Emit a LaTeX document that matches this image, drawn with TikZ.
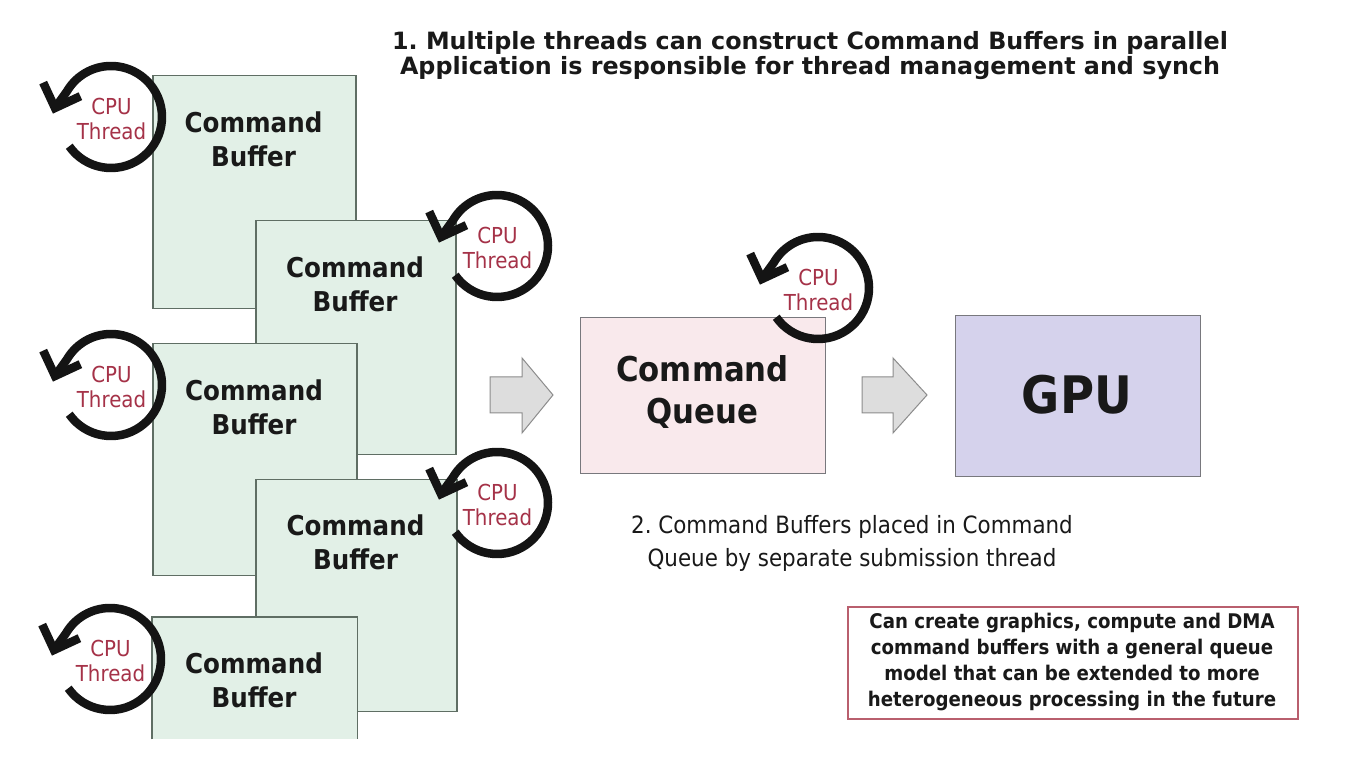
\documentclass[tikz,border=0pt]{standalone}
\usepackage{fontspec}
\setmainfont{DejaVu Sans}
\newfontfamily\cfont[FakeStretch=0.9]{DejaVu Sans}
\usetikzlibrary{calc}
\definecolor{cbfill}{RGB}{226,240,231}
\definecolor{cbline}{RGB}{95,110,100}
\definecolor{cqfill}{RGB}{249,233,236}
\definecolor{gpufill}{RGB}{213,210,236}
\definecolor{boxline}{RGB}{120,120,125}
\definecolor{arrfill}{RGB}{221,221,221}
\definecolor{arrline}{RGB}{140,140,140}
\definecolor{thred}{RGB}{165,50,72}
\definecolor{noteline}{RGB}{185,95,110}
\definecolor{ink}{RGB}{25,25,25}
\frenchspacing
\begin{document}
\frenchspacing
\begin{tikzpicture}[x=1pt,y=1pt,
  cb/.style={draw=cbline, line width=1.5pt, fill=cbfill, anchor=north west, inner sep=0pt},
  cblabel/.style={font=\cfont\bfseries\fontsize{27.3}{34}\selectfont, align=center, text=ink, inner sep=0pt},
  ring/.style={line width=8.5pt, draw=black!92, line join=round},
  threadtext/.style={font=\cfont\fontsize{22}{25}\selectfont, text=thred, align=center, inner sep=0pt},
  blockarrow/.style={fill=arrfill, draw=arrline, line width=1pt, line join=miter},
  plainbox/.style={draw=boxline, line width=1.3pt, anchor=north west, inner sep=0pt},
  cputhread/.pic={
    \draw[ring] (215:51pt) arc[start angle=215, end angle=510, radius=51pt] -- (-56,9);
    \draw[ring, line join=miter] (-30.6,20.8) -- (-56,9) -- (-67.8,34.4);
    \node[threadtext] (-txt) at (0.5,-2) {CPU\\Thread};
  }
]
\fill[white] (0,0) rectangle (1362,768);
\useasboundingbox (0,0) rectangle (1362,768);

% title
\node[font=\bfseries\fontsize{23.8}{25}\selectfont, align=center, text=ink, inner sep=0pt] (title) at (810,712)
  {1. Multiple threads can construct Command Buffers in parallel\\Application is responsible for thread management and synch};

% command buffers
\node[cb, minimum width=203pt, minimum height=233pt] (b1) at (152,693) {};
\node[cblabel] (b1t) at (253.5,629) {Command\\Buffer};
\node[cb, minimum width=200pt, minimum height=234pt] (b2) at (255,548) {};
\node[cblabel] (b2t) at (355,484) {Command\\Buffer};
\node[cb, minimum width=204pt, minimum height=232pt] (b3) at (152,425) {};
\node[cblabel] (b3t) at (254,361) {Command\\Buffer};
\node[cb, minimum width=201pt, minimum height=232pt] (b4) at (255,289) {};
\node[cblabel] (b4t) at (355.5,226) {Command\\Buffer};
\node[cb, draw=none, minimum width=204pt, minimum height=121pt] (b5) at (152,151) {};
\draw[draw=cbline, line width=1.5pt] (b5.south west) -- (b5.north west) -- (b5.north east) -- (b5.south east);
\node[cblabel] (b5t) at (254,88) {Command\\Buffer};

% block arrows
\draw[blockarrow] (490,391) -- (522,391) -- (522,410) -- (553,373) -- (522,335) -- (522,355) -- (490,355) -- cycle;
\draw[blockarrow] (862,391) -- (893,391) -- (893,410) -- (927,373) -- (893,335) -- (893,355) -- (862,355) -- cycle;

% command queue and GPU
\node[plainbox, fill=cqfill, minimum width=245pt, minimum height=156pt] (cq) at (580,451) {};
\node[font=\cfont\bfseries\fontsize{34.2}{42}\selectfont, align=center, text=ink, inner sep=0pt] (cqt) at (702.5,375.5) {Command\\Queue};
\node[plainbox, fill=gpufill, minimum width=245pt, minimum height=161pt] (gpu) at (955,453) {};
\node[font=\cfont\bfseries\fontsize{51.7}{60}\selectfont, text=ink, inner sep=0pt] (gput) at (1077,373) {GPU};

% second caption
\node[font=\cfont\fontsize{23.8}{33}\selectfont, align=center, text=ink, inner sep=0pt] (sub) at (852,225)
  {2. Command Buffers placed in Command\\Queue by separate submission thread};

% note box
\fill[black!25] (848.5,48) rectangle (1298.5,160);
\node[draw=noteline, line width=1.6pt, fill=white, anchor=north west, inner sep=0pt, minimum width=450pt, minimum height=112pt] (note) at (847,162) {};
\node[font=\cfont\bfseries\fontsize{20.2}{26}\selectfont, align=center, text=ink, inner sep=0pt] (notet) at (1072,106)
  {Can create graphics, compute and DMA\\command buffers with a general queue\\model that can be extended to more\\heterogeneous processing in the future};

% CPU threads
\pic (t1) at (111,651) {cputhread};
\pic (t2) at (497,522) {cputhread};
\pic (t3) at (111,383) {cputhread};
\pic (t4) at (497,265) {cputhread};
\pic (t5) at (110,109) {cputhread};
\pic (t6) at (818,480) {cputhread};
\end{tikzpicture}
\end{document}
